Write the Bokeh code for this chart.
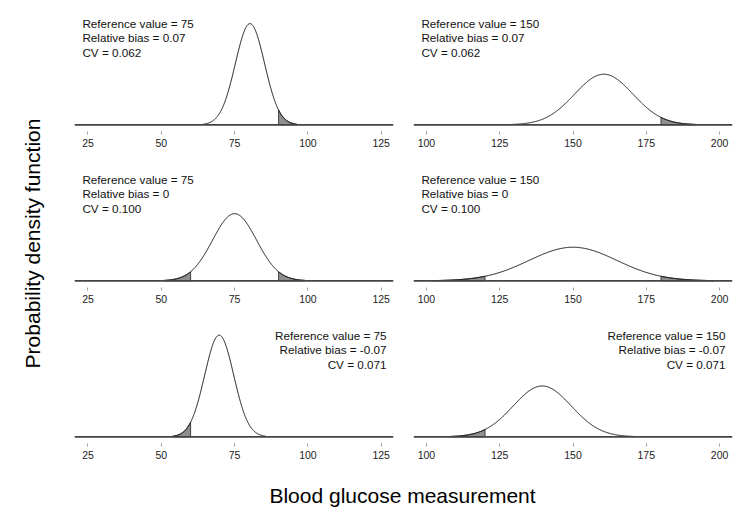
import numpy as np
from bokeh.plotting import figure
from bokeh.models import Range1d, ColumnDataSource, FixedTicker, Span
from bokeh.layouts import row, column
from bokeh.embed import file_html
from bokeh.resources import INLINE
from bokeh.core.properties import value

# ---- data ----
reference_values = [75, 150]
relative_biases = [0.07, 0.0, -0.07]
cv_values = [0.062, 0.100, 0.071]
bias_labels = ["0.07", "0", "-0.07"]
cv_labels = ["0.062", "0.100", "0.071"]
tolerance = 0.20
ticks_75 = [25, 50, 75, 100, 125]
ticks_150 = [100, 125, 150, 175, 200]
xlim_75 = (20.4, 129.2)
xlim_150 = (95.6, 204.4)

# ---- layout / style ----
FONT_NAME = "Liberation Sans"
FONT = value(FONT_NAME)
K = 1262.0            # px per density unit (shared y scale)
FRAME_W, FRAME_H = 319, 119
Y0 = -6.7 / K
Y1 = Y0 + FRAME_H / K
TXT_PX = [101.3, 87.0, 72.7]  # text line centres above zero, px


def panel(ref, bias, cv, blab, clab, col, rowi):
    mean = ref * (1 + bias)
    sd = cv * mean
    lo, hi = xlim_75 if ref == 75 else xlim_150
    ticks = ticks_75 if ref == 75 else ticks_150
    p = figure(frame_width=FRAME_W, frame_height=FRAME_H,
               x_range=Range1d(lo, hi), y_range=Range1d(Y0, Y1),
               output_backend="svg", toolbar_location=None,
               y_axis_location=None,
               min_border_top=(12 if rowi == 0 else 4), min_border_bottom=33,
               min_border_left=10, min_border_right=(10 if col == 0 else 8))
    p.xgrid.visible = False
    p.ygrid.visible = False
    p.outline_line_color = None
    p.background_fill_color = "white"
    p.border_fill_color = "white"
    ax = p.xaxis[0]
    ax.ticker = FixedTicker(ticks=ticks)
    ax.axis_line_color = None
    ax.major_tick_line_color = "#a0a0a0"
    ax.major_tick_in = 0
    ax.major_tick_out = 3
    ax.minor_tick_line_color = None
    ax.major_label_text_font = FONT_NAME
    ax.major_label_text_font_size = "10.5px"
    ax.major_label_text_color = "#222222"
    ax.major_label_standoff = 4

    p.add_layout(Span(location=0, dimension="width", line_color="#444444", line_width=1.7))

    xs = np.linspace(mean - 3.2 * sd, mean + 3.2 * sd, 500)

    def pdf(v):
        return np.exp(-0.5 * ((v - mean) / sd) ** 2) / (sd * np.sqrt(2 * np.pi))

    ys = pdf(xs)

    low_thr = ref * (1 - tolerance)
    high_thr = ref * (1 + tolerance)
    if xs[0] < low_thr:
        m = xs < low_thr
        xt = np.concatenate([xs[m], [low_thr, low_thr, xs[m][0]]])
        yt = np.concatenate([ys[m], [pdf(low_thr), 0, 0]])
        p.patch(xt, yt, fill_color="#8f8f8f", line_color="#333333", line_width=0.9)
    if xs[-1] > high_thr:
        m = xs > high_thr
        xt = np.concatenate([[high_thr, high_thr], xs[m], [xs[m][-1]]])
        yt = np.concatenate([[0, pdf(high_thr)], ys[m], [0]])
        p.patch(xt, yt, fill_color="#8f8f8f", line_color="#333333", line_width=0.9)

    p.line(xs, ys, line_color="#111111", line_width=1)

    lines = [f"Reference value = {ref}", f"Relative bias = {blab}", f"CV = {clab}"]
    ypos = [v / K for v in TXT_PX]
    if rowi < 2:
        tx = lo + 2.7
        align = "left"
    else:
        tx = hi - 2.4
        align = "right"
    src = ColumnDataSource(dict(x=[tx] * 3, y=ypos, t=lines))
    p.text(x="x", y="y", text="t", source=src, text_font=FONT,
           text_font_size="11.7px", text_align=align, text_baseline="middle",
           text_color="#111111")
    return p


cols = []
for ci, ref in enumerate(reference_values):
    figs = [panel(ref, relative_biases[r], cv_values[r], bias_labels[r], cv_labels[r], ci, r)
            for r in range(3)]
    cols.append(column(*figs, spacing=0))

YL_W, YL_H = 64, 476
ylab = figure(frame_width=YL_W, frame_height=YL_H, x_range=Range1d(0, 1), y_range=Range1d(0, 1),
              output_backend="svg", toolbar_location=None, min_border=0,
              x_axis_location=None, y_axis_location=None)
ylab.grid.visible = False
ylab.outline_line_color = None
ylab.text(x=[32 / YL_W], y=[1 - 243 / YL_H], text=["Probability density function"],
          angle=np.pi / 2, text_font=FONT, text_font_size="21px",
          text_align="center", text_baseline="middle", text_color="#000000")

XL_W, XL_H = 740, 43
xlab = figure(frame_width=XL_W, frame_height=XL_H, x_range=Range1d(0, 1), y_range=Range1d(0, 1),
              output_backend="svg", toolbar_location=None, min_border=0,
              x_axis_location=None, y_axis_location=None)
xlab.grid.visible = False
xlab.outline_line_color = None
xlab.text(x=[402 / XL_W], y=[1 - 19 / XL_H], text=["Blood glucose measurement"],
          text_font=FONT, text_font_size="21px",
          text_align="center", text_baseline="middle", text_color="#000000")

layout = column(row(ylab, cols[0], cols[1], spacing=0), xlab, spacing=0)

open("out.html", "w").write(file_html(layout, INLINE))
